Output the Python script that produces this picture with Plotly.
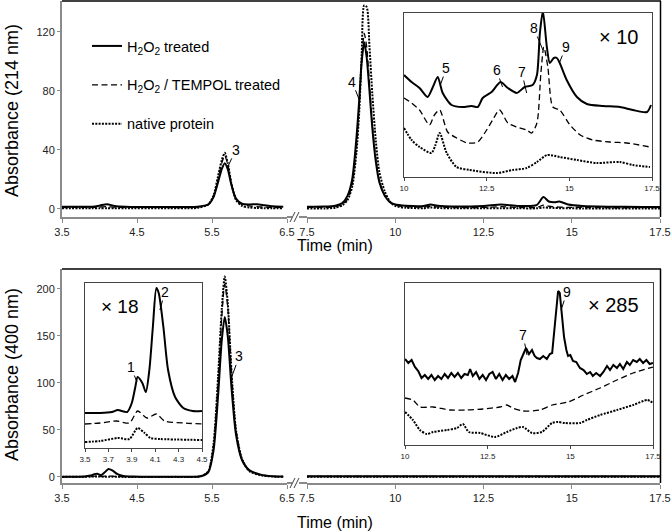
import plotly.graph_objects as go

W, H = 672, 532

# ---------------- data: 214 nm main chromatogram ----------------
t214_a = [3.5, 3.9, 4.0, 4.1, 4.2, 4.35, 4.8, 5.3, 5.45, 5.52, 5.58, 5.63, 5.67, 5.71, 5.76, 5.82, 5.9, 6.0, 6.1, 6.2, 6.3, 6.45]
h2o2_214_a = [1.5, 1.5, 2.2, 3.2, 2.0, 1.5, 1.3, 1.5, 3, 8, 18, 27, 31, 27, 16, 7, 3.5, 3, 3.2, 2.5, 1.8, 1.5]
tempol_214_a = [1, 1, 1.2, 1.5, 1.2, 1, 1, 1.2, 3, 8, 20, 31, 36, 30, 17, 7, 3, 2, 1.5, 1.2, 1, 1]
native_214_a = [0.5, 0.5, 0.5, 0.5, 0.5, 0.5, 0.5, 0.7, 3, 9, 22, 33, 38, 31, 17, 6, 2, 1, 0.6, 0.5, 0.5, 0.5]

t214_b = [7.5, 8.0, 8.3, 8.5, 8.65, 8.78, 8.9, 8.98, 9.05, 9.12, 9.19, 9.27, 9.35, 9.45, 9.55, 9.7, 9.85, 10.0,
          10.3, 10.8, 11.0, 11.2, 11.6, 12.5, 13.0, 13.5, 14.0, 14.2, 14.35, 14.5, 14.65, 14.9, 15.3, 16.0, 17.0, 17.5]
h2o2_214_b = [1.5, 1.6, 2.2, 4, 9, 20, 48, 74, 100, 113, 103, 80, 55, 32, 18, 9, 4.5, 3,
              2.2, 2, 3, 2.2, 1.6, 2, 3, 2, 2.5, 8, 5, 4.5, 5, 3, 2, 1.5, 1.3, 1.3]
tempol_214_b = [1.0, 1.0, 1.5, 3, 7, 17, 42, 70, 100, 119, 110, 85, 58, 34, 19, 9, 4.5, 2.5,
                1.5, 1.2, 1.8, 1.3, 1.0, 1.0, 1.5, 1.0, 1.0, 2.5, 1.8, 1.4, 1.2, 1.0, 1.0, 0.8, 0.8, 0.8]
native_214_b = [0.3, 0.3, 0.8, 2.5, 6, 15, 38, 66, 105, 138, 137, 110, 78, 46, 25, 12, 5, 2,
                0.8, 0.5, 1.0, 0.6, 0.4, 0.4, 0.5, 0.4, 0.4, 1.0, 0.8, 0.6, 0.5, 0.4, 0.3, 0.3, 0.3, 0.3]

# ---------------- data: 400 nm main chromatogram ----------------
t400_a = [3.5, 3.8, 3.88, 3.93, 3.97, 4.02, 4.07, 4.12, 4.17, 4.24, 4.32, 4.45, 5.0, 5.35, 5.45, 5.52, 5.58,
          5.63, 5.67, 5.71, 5.76, 5.82, 5.9, 6.0, 6.15, 6.3, 6.45]
h2o2_400_a = [0.3, 0.5, 1.5, 3, 3.5, 2, 5, 8.5, 7, 3, 1, 0.4, 0.3, 0.8, 5, 28, 85, 145, 170, 150, 95, 45, 18, 7, 2.5, 0.8, 0.4]
tempol_400_a = [0.2, 0.3, 0.5, 0.8, 0.9, 0.6, 0.8, 1.0, 0.8, 0.4, 0.3, 0.2, 0.2, 0.8, 6, 33, 100, 170, 205, 180, 110, 50, 19, 7, 2, 0.6, 0.3]
native_400_a = [0.1, 0.2, 0.3, 0.5, 0.6, 0.4, 0.3, 0.3, 0.3, 0.2, 0.1, 0.1, 0.1, 0.8, 6, 35, 105, 178, 213, 185, 112, 50, 19, 6, 1.8, 0.5, 0.2]

t400_b = [7.5, 10.0, 12.5, 15.0, 17.5]
h2o2_400_b = [0.8, 0.8, 0.8, 0.8, 0.8]
tempol_400_b = [0.5, 0.5, 0.5, 0.5, 0.5]
native_400_b = [0.2, 0.2, 0.2, 0.2, 0.2]

# ---------------- data: inset x10 (214 nm, 10-17.5 min, offset traces, a.u.) ----------------
ins214_t_h2o2 = [10.0, 10.23, 10.47, 10.71, 10.86, 11.02, 11.17, 11.44, 11.77, 12.05, 12.23, 12.38, 12.65, 12.92, 13.14,
                 13.41, 13.65, 13.89, 14.02, 14.11, 14.2, 14.32, 14.41, 14.53, 14.62, 14.71, 14.92, 15.23, 15.53, 16.02,
                 16.53, 16.92, 17.35, 17.47]
ins214_h2o2 = [102, 95, 89, 80, 89, 100, 84, 72, 70, 71, 70, 79, 85, 95, 89, 84, 90, 92, 102, 144,
               166, 130, 114, 119, 119, 114, 97, 80, 73, 71, 70, 67, 65, 72]
ins214_t_tempol = [10.0, 10.23, 10.47, 10.77, 10.92, 11.08, 11.32, 11.59, 11.92, 12.23, 12.5, 12.68, 12.89, 13.14, 13.41,
                   13.71, 13.86, 14.02, 14.14, 14.23, 14.35, 14.5, 14.71, 15.02, 15.33, 15.71, 16.23, 16.74, 17.44]
ins214_tempol = [79, 74, 67, 52, 62, 67, 45, 39, 34, 35, 47, 57, 67, 54, 50, 47, 44, 54, 104, 130,
                 110, 70, 67, 52, 42, 37, 35, 34, 30]
ins214_t_native = [10.0, 10.23, 10.47, 10.83, 10.95, 11.08, 11.29, 11.59, 11.98, 12.8, 13.29, 13.71, 14.02, 14.33,
                   14.71, 15.23, 15.83, 16.53, 16.92, 17.44]
ins214_native = [49, 37, 30, 24, 32, 44, 24, 10, 7, 4, 7, 9, 15, 22, 20, 17, 14, 15, 12, 10]

# ---------------- data: inset x18 (400 nm, 3.5-4.5 min) ----------------
ins400a_t_h2o2 = [3.5, 3.63, 3.73, 3.78, 3.86, 3.9, 3.93, 3.95, 3.99, 4.02, 4.05, 4.08, 4.11, 4.13, 4.17, 4.21, 4.27, 4.34, 4.42, 4.5]
ins400a_h2o2 = [35, 35, 36, 38, 36, 45, 61, 71, 65, 56, 78, 121, 160, 155, 121, 78, 51, 40, 37, 37]
ins400a_t_tempol = [3.5, 3.63, 3.77, 3.88, 3.95, 4.03, 4.11, 4.18, 4.34, 4.5]
ins400a_tempol = [24, 25, 27, 25, 37, 30, 34, 27, 25, 24]
ins400a_t_native = [3.5, 3.63, 3.78, 3.88, 3.95, 4.01, 4.06, 4.14, 4.5]
ins400a_native = [6, 7, 10, 9, 20, 15, 10, 9, 8]

# ---------------- data: inset x285 (400 nm, 10-17.5 min) ----------------
ins400b_t_h2o2 = [10.0, 10.1, 10.2, 10.3, 10.4, 10.5, 10.6, 10.7, 10.8, 10.9, 11.0, 11.1, 11.2, 11.3, 11.4, 11.5, 11.6, 11.7,
                  11.8, 11.9, 11.97, 12.05, 12.15, 12.25, 12.35, 12.45, 12.55, 12.65, 12.75, 12.85, 12.95, 13.05, 13.15,
                  13.25, 13.33, 13.42, 13.5, 13.58, 13.66, 13.75, 13.84, 13.92, 13.99, 14.08, 14.18, 14.29, 14.38, 14.45,
                  14.54, 14.63, 14.68, 14.74, 14.81, 14.88, 14.93, 15.0, 15.08, 15.18, 15.29, 15.4, 15.5, 15.6, 15.68,
                  15.78, 15.9, 16.0, 16.11, 16.2, 16.3, 16.41, 16.5, 16.6, 16.71, 16.8, 16.9, 17.01, 17.1, 17.2, 17.3,
                  17.4, 17.5]
ins400b_h2o2 = [86, 82, 85, 78, 74, 67, 70, 66, 70, 65, 69, 66, 71, 67, 72, 68, 72, 67, 71, 70,
                76, 69, 73, 66, 70, 65, 71, 73, 66, 71, 65,
                70, 66, 69, 63, 72, 85, 91, 97, 91, 95, 89, 87,
                86, 89, 86, 91, 92, 125, 154, 152, 130, 108, 95, 89,
                90, 84, 83, 77, 75, 71, 73, 69, 72, 69,
                73, 79, 75, 80, 77, 81, 76, 83, 80, 85,
                83, 86, 82, 85, 81, 82]
ins400b_t_tempol = [10.0, 10.24, 10.45, 10.85, 11.36, 11.87, 12.36, 12.87, 13.08, 13.25, 13.57, 14.08, 14.45, 14.93,
                    15.4, 15.9, 16.41, 16.9, 17.5]
ins400b_tempol = [47, 45, 38, 38, 35, 35, 36, 38, 40, 37, 34, 35, 40, 43, 50, 57, 65, 72, 78]
ins400b_t_native = [10.0, 10.24, 10.45, 10.66, 10.85, 11.27, 11.57, 11.75, 11.93, 12.27, 12.72, 13.08, 13.39, 13.57,
                    13.84, 14.14, 14.45, 14.63, 14.84, 15.29, 15.5, 15.9, 16.41, 16.9, 17.33, 17.5]
ins400b_native = [33, 25, 15, 11, 13, 15, 17, 21, 13, 12, 8, 13, 17, 18, 12, 13, 22, 23, 22, 22, 25, 30, 35, 40, 45, 42]

series_names = ["H<sub>2</sub>O<sub>2</sub> treated", "H<sub>2</sub>O<sub>2</sub> / TEMPOL treated", "native protein"]

# ---------------- styles ----------------
def px(x):
    return x / W

def py(y):
    return 1 - y / H

STY = {
    "solid": dict(color="black", width=2),
    "dash": dict(color="black", width=1.3, dash="6px,3.5px"),
    "dot": dict(color="black", width=2, dash="2px,1.3px"),
}

fig = go.Figure()

def add(x, y, sty, xa, ya, name=None, legend=False, shape="spline", smooth=0.7):
    line = dict(STY[sty])
    line["shape"] = shape
    if shape == "spline":
        line["smoothing"] = smooth
    fig.add_trace(go.Scatter(x=x, y=y, mode="lines", line=line, xaxis=xa, yaxis=ya,
                             name=name, showlegend=legend, legendgroup=name if legend else None,
                             hoverinfo="skip"))

# main 214 nm
add(t214_a, h2o2_214_a, "solid", "x", "y", series_names[0], True)
add(t214_a, tempol_214_a, "dash", "x", "y", series_names[1], True)
add(t214_a, native_214_a, "dot", "x", "y", series_names[2], True)
add(t214_b, h2o2_214_b, "solid", "x2", "y")
add(t214_b, tempol_214_b, "dash", "x2", "y")
add(t214_b, native_214_b, "dot", "x2", "y")
# main 400 nm
add(t400_a, h2o2_400_a, "solid", "x3", "y2")
add(t400_a, tempol_400_a, "dash", "x3", "y2")
add(t400_a, native_400_a, "dot", "x3", "y2")
add(t400_b, native_400_b, "dot", "x4", "y2", shape="linear")
add(t400_b, tempol_400_b, "dash", "x4", "y2", shape="linear")
add(t400_b, h2o2_400_b, "solid", "x4", "y2", shape="linear")
# inset x10
add(ins214_t_h2o2, ins214_h2o2, "solid", "x5", "y3")
add(ins214_t_tempol, ins214_tempol, "dash", "x5", "y3")
add(ins214_t_native, ins214_native, "dot", "x5", "y3")
# inset x18
add(ins400a_t_h2o2, ins400a_h2o2, "solid", "x6", "y4")
add(ins400a_t_tempol, ins400a_tempol, "dash", "x6", "y4")
add(ins400a_t_native, ins400a_native, "dot", "x6", "y4")
# inset x285
add(ins400b_t_h2o2, ins400b_h2o2, "solid", "x7", "y5", shape="linear")
add(ins400b_t_tempol, ins400b_tempol, "dash", "x7", "y5")
add(ins400b_t_native, ins400b_native, "dot", "x7", "y5")

AXC = "#8a8a8a"
main_ax = dict(showline=True, linecolor=AXC, linewidth=2, ticks="outside", ticklen=4, tickcolor=AXC,
               tickwidth=1, showgrid=False, zeroline=False, tickfont=dict(size=11, color="#222"),
               fixedrange=True, automargin=False)
ins_ax = dict(showline=True, mirror=True, linecolor="#444", linewidth=1, showgrid=False, zeroline=False,
              fixedrange=True, automargin=False)
ins_x = dict(ins_ax, ticks="outside", ticklen=3, tickcolor="#444", tickfont=dict(size=8, color="#222"))
ins_y = dict(ins_ax, ticks="", showticklabels=False)

xt_a = [3.5, 4.5, 5.5, 6.5]
xt_b = [7.5, 10, 12.5, 15, 17.5]

fig.update_layout(
    width=W, height=H, autosize=False,
    margin=dict(l=0, r=0, t=0, b=0, pad=0, autoexpand=False),
    paper_bgcolor="white", plot_bgcolor="rgba(0,0,0,0)",
    font=dict(family="Arial, Liberation Sans, sans-serif", color="black"),
    showlegend=True,
    legend=dict(x=px(87), y=py(30), xanchor="left", yanchor="top", font=dict(size=14.5),
                tracegroupgap=17, bgcolor="rgba(0,0,0,0)", traceorder="grouped"),
    xaxis=dict(main_ax, domain=[px(62), px(287)], range=[3.5, 6.5], anchor="y", tickvals=xt_a),
    xaxis2=dict(main_ax, domain=[px(307), px(660)], range=[7.5, 17.5], anchor="y", tickvals=xt_b),
    yaxis=dict(main_ax, domain=[py(217), py(1)], range=[-5.5, 141], anchor="x", tickvals=[0, 40, 80, 120], ticklen=3),
    xaxis3=dict(main_ax, domain=[px(62), px(287)], range=[3.5, 6.5], anchor="y2", tickvals=xt_a),
    xaxis4=dict(main_ax, domain=[px(307), px(660)], range=[7.5, 17.5], anchor="y2", tickvals=xt_b),
    yaxis2=dict(main_ax, domain=[py(483), py(269)], range=[-6.4, 221], anchor="x3",
                tickvals=[0, 50, 100, 150, 200], ticklen=3),
    xaxis5=dict(ins_x, domain=[px(404), px(652)], range=[10, 17.5], anchor="y3", tickvals=[10, 12.5, 15, 17.5]),
    yaxis3=dict(ins_y, domain=[py(177), py(13)], range=[0, 164], anchor="x5"),
    xaxis6=dict(ins_x, domain=[px(85), px(202)], range=[3.5, 4.5], anchor="y4",
                tickvals=[3.5, 3.7, 3.9, 4.1, 4.3, 4.5]),
    yaxis4=dict(ins_y, domain=[py(448), py(283)], range=[0, 165], anchor="x6"),
    xaxis7=dict(ins_x, domain=[px(405), px(653)], range=[10, 17.5], anchor="y5", tickvals=[10, 12.5, 15, 17.5]),
    yaxis5=dict(ins_y, domain=[py(445), py(283)], range=[0, 162], anchor="x7"),
)

# frame lines and axis breaks
def pline(x0, y0, x1, y1, color="black", width=1.5):
    fig.add_shape(type="line", xref="paper", yref="paper", x0=px(x0), y0=py(y0), x1=px(x1), y1=py(y1),
                  line=dict(color=color, width=width))

for top, bot in [(1, 217), (269, 483)]:
    pline(62, top, 661, top)
    pline(660.5, top, 660.5, bot)
    pline(287, bot, 292, bot, AXC, 2)
    pline(299, bot, 307, bot, AXC, 2)
    pline(290, bot + 5, 295, bot - 5, "#444", 1)
    pline(294, bot + 5, 299, bot - 5, "#444", 1)

# text annotations
def note(text, x, y, size=14, **kw):
    fig.add_annotation(text=text, x=px(x), y=py(y), xref="paper", yref="paper", showarrow=False,
                       xanchor="center", yanchor="middle",
                       font=dict(size=size, color="black"), **kw)

note("Absorbance (214 nm)", 12, 111, 18, textangle=-90)
note("Absorbance (400 nm)", 12, 375, 18, textangle=-90)
note("Time (min)", 335, 245, 16)
note("Time (min)", 335, 522, 16)
note("× 10", 618, 37, 20)
note("× 18", 120, 306, 19)
note("× 285", 613, 305, 20)

def peak(text, x, y, xa, ya, ax, ay):
    fig.add_annotation(text=text, x=x, y=y, xref=xa, yref=ya, showarrow=True, arrowhead=0, arrowwidth=1,
                       arrowcolor="black", ax=ax, ay=ay, standoff=0, borderpad=0,
                       font=dict(size=14, color="black"))

peak("3", 5.71, 28.5, "x", "y", 8, -17)
peak("4", 8.98, 74, "x2", "y", -7, -18)
peak("5", 11.1, 92, "x5", "y3", 6, -17)
peak("6", 12.98, 90, "x5", "y3", -6, -17)
peak("7", 13.71, 84, "x5", "y3", -5, -21)
peak("8", 14.2, 127, "x5", "y3", -9, -22)
peak("9", 14.71, 115, "x5", "y3", 6, -15)
peak("1", 3.944, 66, "x6", "y4", -6, -15)
peak("2", 4.14, 138, "x6", "y4", 5, -18)
peak("3", 5.77, 108, "x3", "y2", 7, -19)
peak("7", 13.69, 90, "x7", "y5", -4, -20)
peak("9", 14.72, 135, "x7", "y5", 6, -18)

fig.write_html("out.html", config={"displayModeBar": False},
               post_script="document.body.style.margin='0';document.body.style.overflow='hidden';")
